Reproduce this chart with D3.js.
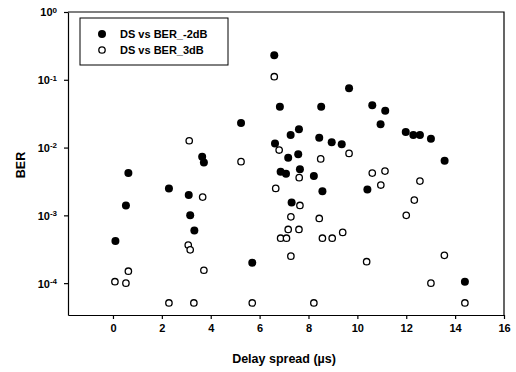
<!DOCTYPE html>
<html>
<head>
<meta charset="utf-8">
<script src="https://cdn.jsdelivr.net/npm/d3@7"></script>
<style>
  body { margin: 0; background: #fff; }
  svg text { font-family: "Liberation Sans", Arial, sans-serif; font-weight: bold; }
</style>
</head>
<body>
<div id="area"></div>
<script>
// DS vs BER_-2dB (filled)
var dsMinus2 = [0.1, 0.53, 0.63, 2.29, 3.1, 3.16, 3.33, 3.65, 3.72, 5.24, 5.7, 6.6, 6.63, 6.83, 6.86, 7.08, 7.17, 7.27, 7.31, 7.58,
  7.61, 7.65, 8.22, 8.44, 8.52, 8.57, 8.95, 9.36, 9.66, 10.41, 10.61, 10.95, 11.14, 11.98, 12.29, 12.56, 13.01, 13.57, 14.4];
var berMinus2 = [4.2e-4, 1.4e-3, 4.2e-3, 2.5e-3, 2.0e-3, 1.0e-3, 6e-4, 7.3e-3, 6.0e-3, 0.023, 2.0e-4, 0.23, 0.0115, 0.04, 0.0044, 0.0041, 0.0071, 0.0153, 0.00155, 0.008,
  0.0186, 0.0048, 0.0038, 0.014, 0.04, 0.00226, 0.012, 0.0112, 0.075, 0.0024, 0.042, 0.022, 0.035, 0.017, 0.0153, 0.0153, 0.0135, 0.0064, 1.05e-4];

// DS vs BER_3dB (open)
var ds3 = [0.08, 0.53, 0.63, 2.29, 3.08, 3.12, 3.16, 3.31, 3.67, 3.72, 5.24, 5.7, 6.6, 6.66, 6.8, 6.86, 7.1, 7.17, 7.28, 7.28,
  7.61, 7.62, 7.65, 8.22, 8.44, 8.5, 8.57, 8.97, 9.4, 9.66, 10.38, 10.61, 10.96, 11.13, 12.0, 12.33, 12.56, 13.01, 13.56, 14.4];
var ber3 = [1.05e-4, 1.0e-4, 1.5e-4, 5.1e-5, 3.65e-4, 0.0126, 3.1e-4, 5.1e-5, 1.86e-3, 1.55e-4, 0.0062, 5.1e-5, 0.111, 0.0025, 0.0092, 4.6e-4, 4.6e-4, 6.2e-4, 9.5e-4, 2.5e-4,
  6.2e-4, 0.0036, 0.0014, 5.1e-5, 9.0e-4, 0.0068, 4.6e-4, 4.6e-4, 5.6e-4, 0.0082, 2.07e-4, 0.0042, 0.0028, 0.0045, 1.0e-3, 1.68e-3, 0.0032, 1.0e-4, 2.57e-4, 5.1e-5];

var xTicks = [0, 2, 4, 6, 8, 10, 12, 14, 16];
var yExps = [0, -1, -2, -3, -4];
var seriesNames = ["DS vs BER_-2dB", "DS vs BER_3dB"];

var margin = { top: 12, right: 12, bottom: 57, left: 68 },
  width = 516 - margin.left - margin.right,
  height = 372 - margin.top - margin.bottom;

var svg = d3.select("#area").append("svg")
  .attr("width", 516).attr("height", 372);
var g = svg.append("g")
  .attr("transform", "translate(" + margin.left + "," + margin.top + ")");

var xScale = d3.scaleLinear().domain([-1.84, 16]).range([0, width]);
var yScale = d3.scaleLog().domain([Math.pow(10, -4.47), 1]).range([height, 0]);

// x axis
var xAxis = g.append("g")
  .attr("transform", "translate(0," + height + ")")
  .call(d3.axisBottom(xScale).tickValues(xTicks).tickSize(4).tickSizeOuter(0).tickPadding(5));
xAxis.selectAll("text").style("font-size", "11px").attr("fill", "#000");

// y axis
var yAxis = g.append("g")
  .call(d3.axisLeft(yScale).tickValues(yExps.map(function (e) { return Math.pow(10, e); }))
    .tickSize(4).tickSizeOuter(0).tickFormat(""));
yAxis.selectAll(".tick").each(function (d) {
  var e = Math.round(Math.log10(d));
  var t = d3.select(this).append("text")
    .attr("x", -11).attr("dy", "0.35em")
    .attr("text-anchor", "end").attr("fill", "#000")
    .style("font-size", "11px");
  t.append("tspan").text("10");
  t.append("tspan").attr("dy", "-0.45em").style("font-size", "8px").text(e === 0 ? "0" : "-" + (-e));
});

g.selectAll(".domain").attr("stroke", "#000").attr("stroke-width", 1.2);
g.selectAll(".tick line").attr("stroke", "#000").attr("stroke-width", 1.2);

// top and right frame
g.append("path")
  .attr("d", "M0,0H" + width + "V" + height)
  .attr("fill", "none").attr("stroke", "#000").attr("stroke-width", 1.2);

// points
g.selectAll(".open").data(ds3).enter().append("circle")
  .attr("cx", function (d) { return xScale(d); })
  .attr("cy", function (d, i) { return yScale(ber3[i]); })
  .attr("r", 3.2).attr("fill", "#fff").attr("stroke", "#000").attr("stroke-width", 1.3);

g.selectAll(".filled").data(dsMinus2).enter().append("circle")
  .attr("cx", function (d) { return xScale(d); })
  .attr("cy", function (d, i) { return yScale(berMinus2[i]); })
  .attr("r", 4).attr("fill", "#000");

// legend
var lg = svg.append("g").attr("transform", "translate(80,18)");
lg.append("rect").attr("width", 148).attr("height", 47)
  .attr("fill", "#fff").attr("stroke", "#000").attr("stroke-width", 1);
lg.append("circle").attr("cx", 22).attr("cy", 16).attr("r", 4).attr("fill", "#000");
lg.append("circle").attr("cx", 22).attr("cy", 32).attr("r", 3.2)
  .attr("fill", "#fff").attr("stroke", "#000").attr("stroke-width", 1.3);
lg.selectAll(".lt").data(seriesNames).enter().append("text")
  .attr("x", 40).attr("y", function (d, i) { return 16 + i * 16; })
  .attr("dy", "0.35em").style("font-size", "11px").text(function (d) { return d; });

// axis titles
svg.append("text")
  .attr("x", margin.left + xScale(7)).attr("y", 363)
  .attr("text-anchor", "middle").style("font-size", "12.5px")
  .text("Delay spread (\u00b5s)");
svg.append("text")
  .attr("transform", "translate(25,165) rotate(-90)")
  .attr("text-anchor", "middle").style("font-size", "12.5px")
  .text("BER");
</script>
</body>
</html>
